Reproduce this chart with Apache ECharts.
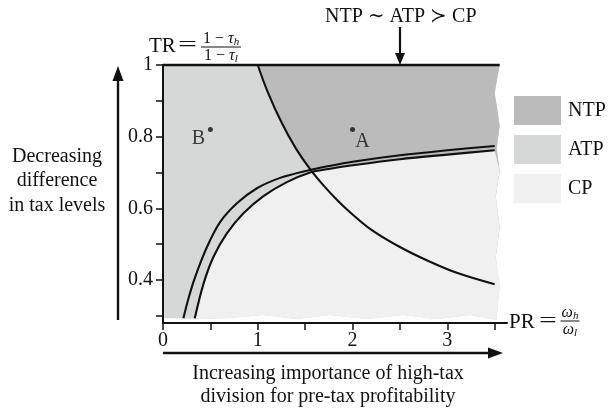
<!DOCTYPE html>
<html><head><meta charset="utf-8">
<script src="https://cdn.jsdelivr.net/npm/echarts@6/dist/echarts.min.js"></script>
<style>html,body{margin:0;padding:0;background:#fff}#c{width:611px;height:409px}</style>
</head><body><div id="c"></div>
<script>
// ---- data ----
const regionNames = ['NTP', 'ATP', 'CP'];
const regionColors = ['#bbbbbb', '#d6d7d7', '#f0f0f0'];
// NTP ≻ ATP boundary (decreasing)
const curveNTPvsATP = [[1.0,1.0],[1.1,0.928],[1.25,0.84],[1.4,0.768],[1.55,0.71],[1.7,0.662],[1.85,0.62],[2.0,0.583],[2.2,0.54],[2.5,0.492],[2.8,0.453],[3.1,0.42],[3.5,0.388]];
// CP ≻ NTP boundary (outer increasing)
const curveCPvsNTP = [[0.215,0.293],[0.27,0.35],[0.34,0.409],[0.464,0.492],[0.604,0.562],[0.78,0.614],[0.991,0.656],[1.236,0.685],[1.517,0.705],[1.75,0.718],[2.0,0.73],[2.5,0.748],[3.0,0.762],[3.5,0.774]];
// CP ≻ ATP boundary (inner increasing)
const curveCPvsATP = [[0.335,0.293],[0.428,0.39],[0.533,0.465],[0.674,0.53],[0.849,0.586],[1.06,0.634],[1.307,0.673],[1.552,0.7],[1.75,0.71],[2.0,0.72],[2.5,0.737],[3.0,0.75],[3.5,0.762]];
const pointNames = ['A', 'B'];
const pointValues = [[2.0, 0.82], [0.5, 0.82]];
const xTicks = [0, 0.5, 1, 1.5, 2, 2.5, 3, 3.5];
const xTickLabels = [0, 1, 2, 3];
const yTicks = [0.3, 0.4, 0.5, 0.6, 0.7, 0.8, 0.9, 1.0];
const yTickLabels = [0.4, 0.6, 0.8, 1.0];
const xRange = [0, 3.63];
const yRange = [0.28, 1];
const xEnd = 3.5;

// ---- rendering ----
const FONT = '"Liberation Serif","DejaVu Serif",serif';
const chart = echarts.init(document.getElementById('c'), null, {renderer: 'canvas'});

// decorative torn edges (fractions / pixel offsets)
const rightWave = [[0,5],[0.11,0],[0.24,5],[0.33,2],[0.42,5],[0.52,1],[0.64,5],[0.76,1],[0.87,5],[1,2]];
const bottomWave = [[0,5],[0.11,4],[0.2,5],[0.3,8],[0.4,4],[0.5,8],[0.61,4],[0.72,8],[0.82,4],[0.92,8],[1,3]];

function frame(api) {
  const top = api.coord([xRange[0], yRange[1]]);
  const axisY = api.coord([xRange[0], yRange[0]])[1];
  const xe = api.coord([xEnd, yRange[1]])[0];
  const x0 = top[0];
  const bottomLine = axisY - 5;
  const right = rightWave.map(([t, dx]) => [xe + dx, top[1] + t * (bottomLine - top[1])]);
  const bottom = bottomWave.map(([t, dy]) => [x0 + t * (xe + 2 - x0), axisY - dy]).reverse();
  return {x0, top: top[1], xe, right, bottom};
}
function regionItem(kind) {
  return function (params, api) {
    const f = frame(api);
    let pts = [];
    if (kind === 'ATP') {
      pts = [[f.x0, f.top]].concat(f.right, f.bottom);
    } else if (kind === 'NTP') {
      const c = curveNTPvsATP.map(p => api.coord(p));
      const yEnd = c[c.length - 1][1];
      pts = c.concat(f.right.filter(p => p[1] < yEnd).reverse());
      pts.push([f.right[0][0], f.top]);
    } else {
      const c = curveCPvsATP.map(p => api.coord(p));
      const yEnd = c[c.length - 1][1];
      const xStart = c[0][0];
      pts = c.concat(f.right.filter(p => p[1] > yEnd), f.bottom.filter(p => p[0] > xStart));
    }
    return {type: 'polygon', shape: {points: pts, smooth: 0}, style: {fill: api.visual('color')}, silent: true};
  };
}
function frameLineItem(params, api) {
  const f = frame(api);
  return {type: 'line', shape: {x1: f.x0, y1: f.top, x2: f.right[0][0], y2: f.top},
          style: {stroke: '#111', lineWidth: 2.5}};
}

function arrow(x1, y1, x2, y2, hl, hw, lw) {
  const a = Math.atan2(y2 - y1, x2 - x1);
  const bx = x2 - hl * Math.cos(a), by = y2 - hl * Math.sin(a);
  const px = -Math.sin(a) * hw / 2, py = Math.cos(a) * hw / 2;
  return [
    {type: 'line', shape: {x1, y1, x2: bx, y2: by}, style: {stroke: '#111', lineWidth: lw}},
    {type: 'polygon', shape: {points: [[x2, y2], [bx + px, by + py], [bx - px, by - py]]}, style: {fill: '#111'}}
  ];
}
function txt(text, x, y, size, align, extra) {
  return Object.assign({type: 'text', x, y, style: {text, font: size + 'px ' + FONT, fill: '#111', align: align || 'left', verticalAlign: 'middle'}}, extra || {});
}
function frac(top, topSub, bot, botSub, cx, cy, w) {
  const rich = {n: {font: '16px ' + FONT}, i: {font: 'italic 16px ' + FONT}, s: {font: 'italic 11px ' + FONT, padding: [6, 0, 0, 0]}};
  return [
    {type: 'text', x: cx, y: cy - 8, style: {text: (top ? '{n|' + top + '}' : '') + '{i|' + (top ? '\u03C4' : '\u03C9') + '}{s|' + topSub + '}', align: 'center', verticalAlign: 'middle', fill: '#111', rich}},
    {type: 'line', shape: {x1: cx - w / 2, y1: cy, x2: cx + w / 2, y2: cy}, style: {stroke: '#111', lineWidth: 1}},
    {type: 'text', x: cx, y: cy + 9, style: {text: (bot ? '{n|' + bot + '}' : '') + '{i|' + (bot ? '\u03C4' : '\u03C9') + '}{s|' + botSub + '}', align: 'center', verticalAlign: 'middle', fill: '#111', rich}}
  ];
}

const regionSeries = regionNames.map((name, i) => ({
  name, type: 'custom', coordinateSystem: 'cartesian2d', z: i === 1 ? 1 : (i === 0 ? 2 : 3),
  itemStyle: {color: regionColors[i]}, data: [[0, 0]], renderItem: regionItem(name), silent: true, clip: false
}));

const curveStyle = {color: '#111', width: 2.1};
const curveSeries = [curveNTPvsATP, curveCPvsNTP, curveCPvsATP].map(d => ({
  type: 'line', data: d, showSymbol: false, smooth: 0.35, lineStyle: curveStyle, z: 5, silent: true, clip: false
}));

const labelOffsets = {A: [10, 12], B: [-12, 9]};

const graphic = [].concat(
  // y-axis arrow and title
  arrow(118, 320, 118, 66, 15, 11, 2.4),
  [txt('Decreasing', 57, 157, 20, 'center'), txt('difference', 57, 181, 20, 'center'), txt('in tax levels', 57, 206, 20, 'center')],
  // x-axis arrow and title
  arrow(163, 353, 503, 353, 15, 11, 2.4),
  [txt('Increasing importance of high-tax', 328, 374, 20, 'center'), txt('division for pre-tax profitability', 328, 397, 20, 'center')],
  // top annotation
  [txt('NTP \u223C ATP \u227B CP', 325, 17, 20, 'left')],
  arrow(400, 27, 400, 65, 12, 10, 2.2),
  // in-plot annotations
  [txt('NTP \u227B ATP', 275, 92, 20, 'left')],
  arrow(280, 122, 312, 106.5, 11, 9, 2),
  [txt('CP \u227B NTP', 401, 170, 20, 'left')],
  arrow(394, 156, 394, 198, 11, 9, 2),
  [txt('CP \u227B ATP', 213, 257, 20, 'left')],
  arrow(207, 268, 247, 280, 11, 9, 2),
  // TR label
  [txt('TR', 149, 46, 21, 'left'), txt('=', 178, 45, 21, 'left', {scaleX: 1.6, originX: 0, originY: 0})],
  frac('1 \u2212 ', 'h', '1 \u2212 ', 'l', 221, 47, 40),
  // PR label
  [txt('PR', 509, 322, 21, 'left'), txt('=', 539, 321, 21, 'left', {scaleX: 1.5, originX: 0, originY: 0})],
  frac('', 'h', '', 'l', 570, 321, 19)
);

chart.setOption({
  animation: false,
  backgroundColor: '#fff',
  grid: {left: 163, top: 65, right: 611 - 507, bottom: 409 - 323, containLabel: false},
  legend: {
    orient: 'vertical', left: 514, top: 96, itemWidth: 47, itemHeight: 29, itemGap: 10, icon: 'rect',
    selectedMode: false, data: regionNames, padding: 0,
    textStyle: {fontFamily: FONT, fontSize: 20, color: '#111', padding: [0, 0, 0, 2]}
  },
  xAxis: {
    type: 'value', min: xRange[0], max: xRange[1], z: 6,
    axisLine: {show: true, lineStyle: {color: '#111', width: 2}},
    axisTick: {show: true, customValues: xTicks, length: 7, lineStyle: {color: '#111', width: 1.5}},
    axisLabel: {customValues: xTickLabels, margin: 8, color: '#111', fontFamily: FONT, fontSize: 20, formatter: v => String(v)},
    splitLine: {show: false}
  },
  yAxis: {
    type: 'value', min: yRange[0], max: yRange[1], z: 6,
    axisLine: {show: true, lineStyle: {color: '#111', width: 2}},
    axisTick: {show: true, customValues: yTicks, length: 7, lineStyle: {color: '#111', width: 1.5}},
    axisLabel: {customValues: yTickLabels, margin: 10, color: '#111', fontFamily: FONT, fontSize: 20,
      formatter: v => (Math.abs(v - 1) < 1e-9 ? '1' : v.toFixed(1))},
    splitLine: {show: false}
  },
  series: regionSeries.concat(
    [{type: 'custom', coordinateSystem: 'cartesian2d', data: [[0, 0]], renderItem: frameLineItem, z: 6, silent: true, clip: false}],
    curveSeries,
    [{
      type: 'scatter', symbolSize: 5, itemStyle: {color: '#111'}, z: 7, silent: true,
      data: pointValues.map((v, i) => ({
        value: v, name: pointNames[i],
        label: {show: true, position: 'inside', offset: labelOffsets[pointNames[i]], formatter: '{b}', color: '#111', fontFamily: FONT, fontSize: 20}
      }))
    }]
  ),
  graphic: {elements: graphic}
});
</script>
</body></html>
